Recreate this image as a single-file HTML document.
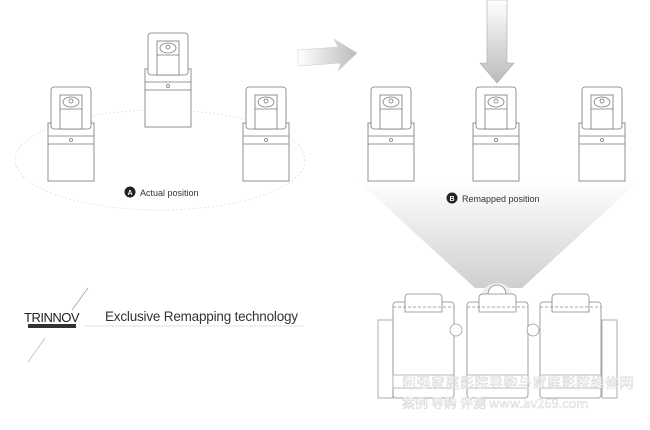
<!DOCTYPE html>
<html><head><meta charset="utf-8"><style>
html,body{margin:0;padding:0;background:#fff;}
svg{display:block}
</style></head><body>
<svg width="650" height="430" viewBox="0 0 650 430" xmlns="http://www.w3.org/2000/svg">
<defs>
<linearGradient id="cone" x1="0" y1="0" x2="0" y2="1">
<stop offset="0" stop-color="#fff"/><stop offset="1" stop-color="#cfcfcf"/></linearGradient>
<linearGradient id="arR" x1="0" y1="0" x2="1" y2="0">
<stop offset="0" stop-color="#fff"/><stop offset="1" stop-color="#bbb"/></linearGradient>
<linearGradient id="arD" x1="0" y1="0" x2="0" y2="1">
<stop offset="0" stop-color="#fff"/><stop offset="1" stop-color="#bbb"/></linearGradient>
<g id="spk" fill="#fff" stroke="#777" stroke-width="0.8">
<rect x="0" y="36" width="46" height="58"/>
<line x1="0" y1="49" x2="46" y2="49"/><line x1="0" y1="57" x2="46" y2="57"/>
<rect x="3" y="0" width="40" height="42" rx="3"/>
<rect x="12" y="8" width="22" height="34"/>
<line x1="12" y1="22" x2="34" y2="22"/>
<ellipse cx="23" cy="15" rx="8" ry="5"/>
<circle cx="23" cy="14" r="2"/>
<circle cx="23" cy="53" r="1.5"/>
</g>
<g id="chair" fill="#fff" stroke="#888" stroke-width="0.8">
<rect x="0" y="0" width="61" height="96" rx="3"/>
<path d="M12 0 V-4 Q12 -8 16 -8 H45 Q49 -8 49 -4 V10 H12 Z"/>
<line x1="0" y1="5" x2="61" y2="5" stroke-dasharray="3,2"/>
<rect x="0" y="73" width="61" height="13" stroke="#aaa"/>
</g>
</defs>
<ellipse cx="160" cy="160" rx="145" ry="50" fill="none" stroke="#e4e4e4" stroke-width="1" stroke-dasharray="2,2"/>
<use href="#spk" x="48" y="87"/>
<use href="#spk" x="145" y="33"/>
<use href="#spk" x="243" y="87"/>
<text x="140" y="196" font-family="Liberation Sans, sans-serif" font-size="9" fill="#333">Actual position</text>
<circle cx="130" cy="192" r="5.5" fill="#222"/>
<text x="130" y="195" text-anchor="middle" font-family="Liberation Sans, sans-serif" font-size="7" font-weight="bold" fill="#fff">A</text>
<polygon points="298,50 338,47 334,39 357,53 338,71 341,63 298,66" fill="url(#arR)" stroke="#ccc" stroke-width="0.5"/>
<polygon points="487,0 507,0 507,63 514,63 497,83 480,63 487,63" fill="url(#arD)" stroke="#aaa" stroke-width="0.6"/>
<polygon points="357,180 640,180 522,288 475,288" fill="url(#cone)"/>
<use href="#spk" x="368" y="87"/>
<use href="#spk" x="473" y="87"/>
<use href="#spk" x="579" y="87"/>
<circle cx="452" cy="198" r="5.5" fill="#222"/>
<text x="452" y="201" text-anchor="middle" font-family="Liberation Sans, sans-serif" font-size="7" font-weight="bold" fill="#fff">B</text>
<text x="462" y="202" font-family="Liberation Sans, sans-serif" font-size="9" fill="#333">Remapped position</text>
<path d="M480 300 A17 17 0 0 1 514 300 Z" fill="#eee"/>
<circle cx="497" cy="294" r="9" fill="#fff" stroke="#888" stroke-width="0.8"/>
<rect x="378" y="320" width="15" height="78" fill="#fff" stroke="#999" stroke-width="0.8"/>
<rect x="602" y="320" width="15" height="78" fill="#fff" stroke="#999" stroke-width="0.8"/>
<use href="#chair" x="393" y="302"/>
<use href="#chair" x="467" y="302"/>
<use href="#chair" x="540" y="302"/>
<circle cx="456" cy="330" r="6" fill="#fff" stroke="#999" stroke-width="0.8"/>
<circle cx="533" cy="330" r="6" fill="#fff" stroke="#999" stroke-width="0.8"/>
<text x="402" y="388" font-family="Noto Sans CJK SC, sans-serif" font-size="14" fill="#fff" stroke="#c4c4c4" stroke-width="0.35" letter-spacing="0.5">阿强家庭影院导购与家庭影院维修网</text>
<text x="402" y="408" font-family="Noto Sans CJK SC, sans-serif" font-size="13" fill="#fff" stroke="#c4c4c4" stroke-width="0.35">案例 导购 评测 www.av269.com</text>
<line x1="88" y1="288" x2="72" y2="310" stroke="#999" stroke-width="0.7"/>
<line x1="45" y1="338" x2="28" y2="362" stroke="#bbb" stroke-width="0.7"/>
<text x="24" y="322" font-family="Liberation Sans, sans-serif" font-size="13" fill="#222" letter-spacing="-0.5">TRINNOV</text>
<rect x="28" y="324" width="48" height="4" fill="#333"/>
<line x1="85" y1="326" x2="303" y2="326" stroke="#e4e2d8" stroke-width="1"/>
<text x="105" y="321" font-family="Liberation Sans, sans-serif" font-size="13.5" fill="#333" letter-spacing="-0.2">Exclusive Remapping technology</text>
</svg>
</body></html>
